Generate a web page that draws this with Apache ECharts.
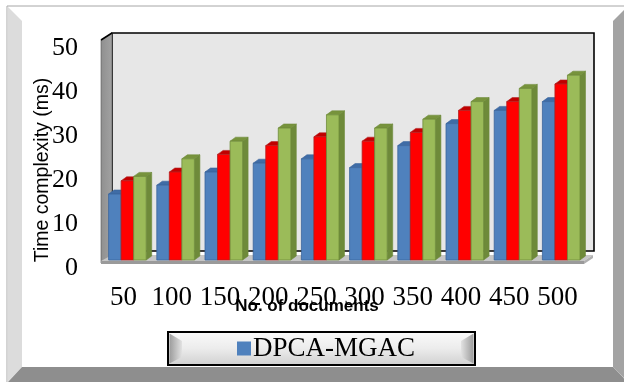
<!DOCTYPE html>
<html>
<head>
<meta charset="utf-8">
<script src="https://cdn.jsdelivr.net/npm/echarts@6/dist/echarts.min.js"></script>
<style>
  html, body { margin: 0; padding: 0; background: #fff; }
  #chart { width: 624px; height: 382px; }
</style>
</head>
<body>
<div id="chart"></div>
<script>
// Number of documents on the category axis
const documentCounts = ['50', '100', '150', '200', '250', '300', '350', '400', '450', '500'];

// Time complexity (ms) per method
const seriesNames = ['DPCA-MGAC', 'Comparison A', 'Comparison B'];
const dpcaMgac    = [15, 17, 20, 22, 23, 21, 26, 31, 34, 36];
const comparisonA = [18, 20, 24, 26, 28, 27, 29, 34, 36, 40];
const comparisonB = [19, 23, 27, 30, 33, 30, 32, 36, 39, 42];

// Value axis range
const yMin = 0, yMax = 50, yStep = 10;

// Face colours for the pseudo-3D columns: front, side, top, outline
const palettes = [
  { front: '#4f81bd', side: '#38618f', top: '#3f6ca6', edge: '#3a659c' },
  { front: '#ff0000', side: '#b80000', top: '#c00000', edge: '#b42020' },
  { front: '#9bbb59', side: '#6e8a3a', top: '#77933c', edge: '#6f8b3a' }
];

// Layout of the front plane of the plot and the depth offset of the box
const plot = { left: 102, top: 40, width: 482, height: 220 };
const depth = { dx: 10, dy: -7 };
const barDepth = { dx: 5.5, dy: -4 };

const serifFont = '"Liberation Serif", "Times New Roman", serif';
const sansFont = '"Liberation Sans", Arial, sans-serif';

function columnRenderer(slot, pal) {
  return function (params, api) {
    const idx = api.value(0);
    const val = api.value(1);
    const top = api.coord([idx, val]);
    const base = api.coord([idx, 0]);
    const band = api.size([1, 0])[0];
    const w = band * 0.26;
    const x0 = top[0] - band * 0.363 + slot * w;
    const yT = top[1], yB = base[1];
    const dx = barDepth.dx, dy = barDepth.dy;
    return {
      type: 'group',
      children: [
        {
          type: 'polygon',
          shape: { points: [[x0 + w, yT], [x0 + w + dx, yT + dy], [x0 + w + dx, yB + dy], [x0 + w, yB]] },
          style: { fill: pal.side, stroke: pal.edge, lineWidth: 0.6 }
        },
        {
          type: 'polygon',
          shape: { points: [[x0, yT], [x0 + dx, yT + dy], [x0 + w + dx, yT + dy], [x0 + w, yT]] },
          style: { fill: pal.top, stroke: pal.edge, lineWidth: 0.6 }
        },
        {
          type: 'rect',
          shape: { x: x0, y: yT, width: w, height: yB - yT },
          style: { fill: pal.front, stroke: pal.edge, lineWidth: 0.8 }
        }
      ]
    };
  };
}

const seriesValues = [dpcaMgac, comparisonA, comparisonB];

const series = seriesValues.map((vals, s) => ({
  name: seriesNames[s],
  type: 'custom',
  z: 5,
  itemStyle: { color: palettes[s].front },
  renderItem: columnRenderer(s, palettes[s]),
  encode: { x: 0, y: 1 },
  data: vals.map((v, i) => [i, v])
}));

// Box walls and floor, derived from the plot rectangle
const L = plot.left, T = plot.top, R = plot.left + plot.width, B = plot.top + plot.height;
const wallGraphics = [
  // outer frame: bevelled border
  { type: 'rect', z: 0, shape: { x: 7, y: 6, width: 640, height: 400 },
    style: { fill: '#ffffff', stroke: '#a6a6a6', lineWidth: 1 } },
  { type: 'polygon', z: 0, shape: { points: [[7.5, 6.5], [22, 21], [22, 367], [7.5, 382]] },
    style: { fill: '#dcdcdc' } },
  { type: 'polygon', z: 0, shape: { points: [[628, 6], [613, 21], [613, 367], [628, 382]] },
    style: { fill: '#a3a3a3' } },
  { type: 'polygon', z: 0, shape: { points: [[7.5, 382.5], [22, 367], [613, 367], [628, 382.5]] },
    style: { fill: '#8e8e8e' } },
  // back wall
  { type: 'rect', z: 1, shape: { x: L + depth.dx, y: T + depth.dy, width: plot.width, height: plot.height - 2 },
    style: { fill: '#e7e7e7', stroke: '#000', lineWidth: 1.6 } },
  // left wall
  { type: 'polygon', z: 1,
    shape: { points: [[L - 1, T], [L + depth.dx, T + depth.dy], [L + depth.dx, B - 4], [L - 1, B + 3]] },
    style: {
      fill: { type: 'linear', x: 0, y: 0, x2: 1, y2: 0,
        colorStops: [{ offset: 0, color: '#8f8f8f' }, { offset: 1, color: '#a2a2a2' }] },
      stroke: '#555', lineWidth: 0.6 } },
  { type: 'polyline', z: 1,
    shape: { points: [[L - 1, T], [L + depth.dx, T + depth.dy]] },
    style: { stroke: '#000', lineWidth: 1.6 } },
  // floor
  { type: 'polygon', z: 1,
    shape: { points: [[L - 1, B + 1], [R, B + 1], [R + depth.dx - 1, B - 5], [L + depth.dx, B - 5]] },
    style: { fill: '#c6c6c6' } },
  { type: 'polygon', z: 1,
    shape: { points: [[L - 1, B + 1], [R, B + 1], [R, B + 4], [L - 1, B + 4]] },
    style: { fill: '#9a9a9a' } },
  { type: 'polygon', z: 1,
    shape: { points: [[R, B + 1], [R + depth.dx - 1, B - 5], [R + depth.dx - 1, B - 2], [R, B + 4]] },
    style: { fill: '#b0b0b0' } },
  // legend plate
  { type: 'rect', z: 3, shape: { x: 168, y: 332, width: 307, height: 33 },
    style: {
      fill: { type: 'linear', x: 0, y: 0, x2: 0, y2: 1,
        colorStops: [{ offset: 0, color: '#fbfbfb' }, { offset: 0.5, color: '#ececec' }, { offset: 1, color: '#cfcfcf' }] },
      stroke: '#000', lineWidth: 2 } },
  { type: 'polygon', z: 3, shape: { points: [[169.5, 333.5], [182, 341], [182, 357], [169.5, 363.5]] },
    style: { fill: { type: 'linear', x: 0, y: 0, x2: 1, y2: 0,
      colorStops: [{ offset: 0, color: '#9c9c9c' }, { offset: 1, color: '#e2e2e2' }] } } },
  { type: 'polygon', z: 3, shape: { points: [[473.5, 333.5], [461, 341], [461, 357], [473.5, 363.5]] },
    style: { fill: { type: 'linear', x: 1, y: 0, x2: 0, y2: 0,
      colorStops: [{ offset: 0, color: '#9c9c9c' }, { offset: 1, color: '#e2e2e2' }] } } },
  // value axis title
  { type: 'text', z: 6, x: 43, y: 170, rotation: Math.PI / 2,
    style: { text: 'Time complexity (ms)', font: '19.5px ' + sansFont,
      fill: '#000', textAlign: 'center', textVerticalAlign: 'middle' } }
];

const chart = echarts.init(document.getElementById('chart'), null, { renderer: 'canvas' });

chart.setOption({
  animation: false,
  backgroundColor: '#ffffff',
  grid: { left: plot.left, top: plot.top, width: plot.width, height: plot.height, outerBoundsMode: 'none' },
  legend: {
    data: [seriesNames[0]],
    left: 237, top: 335, padding: 0,
    icon: 'rect', itemWidth: 14, itemHeight: 14, itemGap: 4,
    selectedMode: false, z: 6,
    textStyle: { fontFamily: serifFont, fontSize: 27, color: '#000', padding: [0, 0, 0, -3] }
  },
  xAxis: {
    type: 'category',
    data: documentCounts,
    axisLine: { show: false },
    axisTick: { show: false },
    axisLabel: {
      interval: 0, margin: 24, color: '#000',
      fontFamily: serifFont, fontSize: 27,
      padding: [0, 5, 0, 0]
    },
    name: 'No. of documents',
    nameLocation: 'middle',
    nameGap: 38,
    nameMoveOverlap: false,
    nameTextStyle: { fontFamily: sansFont, fontWeight: 'bold', fontSize: 17, color: '#000',
      padding: [0, 72, 0, 0] },
    z: 6
  },
  yAxis: {
    type: 'value',
    min: yMin, max: yMax, interval: yStep,
    axisLine: { show: false },
    axisTick: { show: false },
    splitLine: { show: false },
    axisLabel: {
      margin: 24, color: '#000',
      fontFamily: serifFont, fontSize: 26,
      verticalAlign: 'top', lineHeight: 16
    },
    z: 6
  },
  graphic: wallGraphics,
  series: series
});
</script>
</body>
</html>
